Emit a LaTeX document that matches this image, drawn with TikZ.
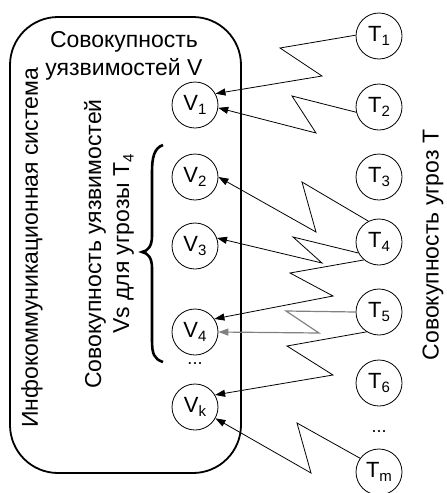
\documentclass[tikz,border=0pt]{standalone}
\usepackage{fontspec}
\setmainfont{Liberation Sans}
\usetikzlibrary{arrows.meta}
\newcommand\subidx[1]{\raisebox{-4.5pt}{\fontsize{15}{15}\selectfont #1}}
\begin{document}
\begin{tikzpicture}[x=1pt,y=-1pt,
  circ/.style={circle, draw, line width=0.8pt, minimum size=46pt, inner sep=0pt, font=\fontsize{22}{22}\selectfont},
  arr/.style={-{Triangle[length=10pt,width=7pt]}, line width=0.8pt},
  lbl/.style={font=\fontsize{23}{28}\selectfont, inner sep=0pt},
  dots/.style={font=\fontsize{18}{18}\selectfont, inner sep=0pt}]
\useasboundingbox (0,0) rectangle (447,493);
\node[draw, line width=1.8pt, rounded corners=48pt, minimum width=231pt, minimum height=456pt, inner sep=0pt] (sys) at (125.5,245) {};
\node[lbl, align=center] (tv) at (124,56) {Совокупность\\уязвимостей V};
\node[lbl, rotate=90] (is) at (32,248) {Инфокоммуникационная система};
\node[lbl, rotate=90, align=center] (vs) at (109,244) {Совокупность уязвимостей\\Vs для угрозы T\subidx{4}};
\node[lbl, rotate=90] (tt) at (433,245) {Совокупность угроз T};
% brace
\draw[line width=2.6pt] (163,145) .. controls (154,148) and (152,158) .. (152,172) -- (152,236)
  .. controls (152,246) and (148,251) .. (142,252) .. controls (148,253) and (152,258) .. (152,268)
  -- (152,340) .. controls (152,354) and (154,359) .. (163,362);
% V nodes
\node[circ] (V1) at (195,105) {V\subidx{1}};
\node[circ] (V2) at (195,177) {V\subidx{2}};
\node[circ] (V3) at (195,246) {V\subidx{3}};
\node[circ] (V4) at (195,332) {V\subidx{4}};
\node[dots] (vd) at (195,364) {...};
\node[circ] (Vk) at (195,407) {V\subidx{k}};
% T nodes
\node[circ] (T1) at (379,36) {T\subidx{1}};
\node[circ] (T2) at (379,107) {T\subidx{2}};
\node[circ] (T3) at (379,177) {T\subidx{3}};
\node[circ] (T4) at (379,242) {T\subidx{4}};
\node[circ] (T5) at (379,312) {T\subidx{5}};
\node[circ] (T6) at (379,383) {T\subidx{6}};
\node[dots] (td) at (379,432) {...};
\node[circ] (Tm) at (379,472) {T\subidx{m}};
% connectors
\draw[arr] (T1.178) -- (280,48) -- (322,76) -- (V1.29);
\draw[arr] (T2.193) -- (292,96) -- (316,133) -- (V1.-7);
\draw[arr] (T4.117) -- (302,182) -- (316,232) -- (V2.0);
\draw[arr] (T4.208) -- (293,237) -- (322,263) -- (V3.20);
\draw[arr] (T4.230) -- (290,273) -- (333,296) -- (V4.34);
\draw[arr, draw=black!50, line width=1.2pt] (T5.180) -- (286,311) -- (319,333) -- (V4.0);
\draw[arr] (T5.238) -- (287,346) -- (333,375) -- (Vk.31);
\draw[arr] (Tm.144) -- (297,423) -- (311,473) -- (Vk.-29);
\end{tikzpicture}
\end{document}
